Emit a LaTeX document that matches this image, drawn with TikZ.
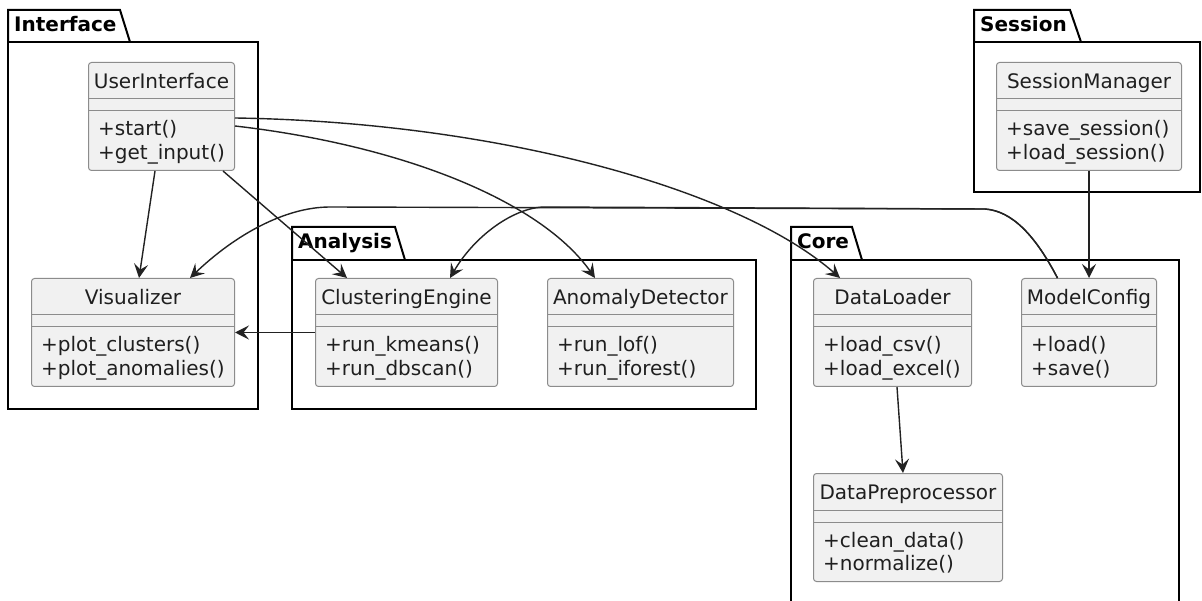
\documentclass[tikz,border=0pt]{standalone}
\usepackage{fontspec}
\setmainfont{DejaVu Sans}
\usetikzlibrary{arrows.meta,calc}

\definecolor{clsfill}{HTML}{F1F1F1}
\definecolor{clsdraw}{HTML}{8C8C8C}
\definecolor{edgecol}{HTML}{222222}

\tikzset{
  clsbox/.style={draw=clsdraw, fill=clsfill, rounded corners=3pt, line width=1pt,
                 inner sep=0pt, minimum height=108pt},
  clsrule/.style={draw=clsdraw, line width=1pt},
  clstext/.style={inner sep=0pt, font=\fontsize{20pt}{24pt}\selectfont, text=black!88},
  pkgline/.style={draw=black, line width=2pt},
  pkglabel/.style={inner sep=0pt, font=\fontsize{20pt}{24pt}\selectfont\bfseries},
  dep/.style={draw=edgecol, line width=1.4pt,
              -{Stealth[length=14pt,width=14pt,inset=5.5pt]}},
}

% class box: name, left, top, width, title, first operation, second operation
\newcommand\umlclass[7]{%
  \node[clsbox, minimum width=#4pt, anchor=north west] (#1) at (#2,#3) {};
  \draw[clsrule] ($(#1.north west)+(0,37)$) -- ($(#1.north east)+(0,37)$);
  \draw[clsrule] ($(#1.north west)+(0,49)$) -- ($(#1.north east)+(0,49)$);
  \node[clstext, anchor=base] (#1-name) at ($(#1.north)+(0,26.5)$) {#5};
  \node[clstext, anchor=base west] (#1-op1) at ($(#1.north west)+(10,74)$) {#6};
  \node[clstext, anchor=base west] (#1-op2) at ($(#1.north west)+(10,97.5)$) {#7};
}

% package frame: name, left, top, tab right (top), tab right (bottom), body top, right, bottom, label
\newcommand\umlpackage[9]{%
  \draw[pkgline] (#2,#6) -- (#2,#3) -- (#4,#3) -- (#5,#6);
  \draw[pkgline] (#2,#6) rectangle (#7,#8);
  \node[pkglabel, anchor=base west] (#1) at ($(#2,#3)+(6,22)$) {#9};
}

\begin{document}
\begin{tikzpicture}[x=1pt, y=-1pt]
  \clip (0,0) rectangle (1202,601);
  \fill[white] (0,0) rectangle (1202,601);

  % packages
  \umlpackage{pkgInterface}{8}{10}{120}{130}{42}{258}{409}{Interface}
  \umlpackage{pkgAnalysis}{292}{227}{395}{405}{260}{756}{409}{Analysis}
  \umlpackage{pkgCore}{791}{227}{852}{862}{260}{1179}{640}{Core}
  \umlpackage{pkgSession}{974}{10}{1070}{1081}{42}{1200}{192}{Session}

  % classes
  \umlclass{ui}{88}{62}{146}{UserInterface}{+start()}{+get\_input()}
  \umlclass{vis}{31}{278}{203}{Visualizer}{+plot\_clusters()}{+plot\_anomalies()}
  \umlclass{cl}{315}{278}{182}{ClusteringEngine}{+run\_kmeans()}{+run\_dbscan()}
  \umlclass{ad}{547}{278}{186}{AnomalyDetector}{+run\_lof()}{+run\_iforest()}
  \umlclass{dl}{813}{278}{158}{DataLoader}{+load\_csv()}{+load\_excel()}
  \umlclass{mc}{1021}{278}{135}{ModelConfig}{+load()}{+save()}
  \umlclass{dp}{813}{473}{189}{DataPreprocessor}{+clean\_data()}{+normalize()}
  \umlclass{sm}{996}{62}{185}{SessionManager}{+save\_session()}{+load\_session()}

  % dependencies
  \draw[dep] ($(ui.south west)+(67,0)$) -- ($(vis.north west)+(108,0)$);
  \draw[dep] ($(ui.south east)+(-12,0)$) -- ($(cl.north west)+(32,0)$);
  \draw[dep] ($(ui.east)+(0,9.5)$) .. controls (400,145) and (540,200) .. ($(ad.north west)+(48,0)$);
  \draw[dep] ($(ui.east)+(0,1.5)$) .. controls (500,122) and (740,190) .. ($(dl.north west)+(27,0)$);
  \draw[dep] (cl.west) -- (vis.east);
  \draw[dep] ($(mc.north)+(-31.5,0)$) .. controls (1035,235) and (1012,211) .. (985,209)
      -- (545,207) .. controls (515,207) and (475,235) .. ($(cl.north west)+(135,0)$);
  \draw[dep] ($(mc.north)+(-31.5,0)$) .. controls (1035,235) and (1012,211) .. (985,209)
      -- (330,207) .. controls (285,207) and (235,235) .. ($(vis.north west)+(159,0)$);
  \draw[dep] (sm.south) -- (mc.north);
  \draw[dep] ($(dl.south west)+(84,0)$) -- ($(dp.north west)+(90,0)$);
\end{tikzpicture}
\end{document}
